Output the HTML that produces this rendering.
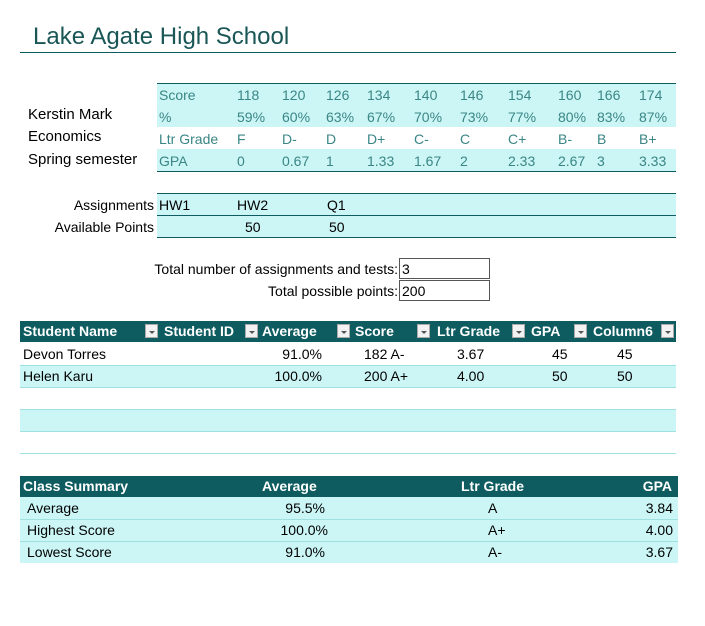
<!DOCTYPE html><html><head><style>
body{margin:0;width:705px;height:626px;background:#fff;position:relative;font-family:"Liberation Sans",sans-serif;overflow:hidden}
.a{position:absolute;white-space:nowrap;font-size:14px;line-height:22px}
.bg{position:absolute;background:#ccf6f6}
.ln{position:absolute;height:1px;background:#0e5c60}
.lc{position:absolute;height:1px;background:#9fe0e0}
.t{color:#3a8585}
.h{position:absolute;background:#0e5c60}
.w{color:#fff;font-weight:bold}
.dd{position:absolute;width:13px;height:14px;background:#f2f2f2;border:1px solid #aaa;box-sizing:border-box;top:324px}
.dd:after{content:"";position:absolute;left:3px;top:6px;border:3px solid transparent;border-top:3px solid #555}
.box{position:absolute;border:1px solid #555;width:91px;height:21px;box-sizing:border-box;font-size:14px;line-height:20px;padding-left:2px}
</style></head><body>
<div class="a" style="left:33px;top:22px;font-size:24px;line-height:30px;color:#1a5656">Lake Agate High School</div>
<div class="ln" style="left:20px;top:52px;width:656px"></div>

<div class="bg" style="left:157px;top:83px;width:519px;height:44px"></div>
<div class="bg" style="left:157px;top:149px;width:519px;height:22px"></div>
<div class="ln" style="left:157px;top:83px;width:519px"></div>
<div class="ln" style="left:157px;top:171px;width:519px"></div>
<div class="a" style="left:28px;top:104px;font-size:15px">Kerstin Mark</div>
<div class="a" style="left:28px;top:126px;font-size:15px">Economics</div>
<div class="a" style="left:28px;top:149px;font-size:15px">Spring semester</div>
<div class="t">
<div class="a" style="left:159px;top:84px">Score</div><div class="a" style="left:237px;top:84px">118</div><div class="a" style="left:282px;top:84px">120</div><div class="a" style="left:326px;top:84px">126</div><div class="a" style="left:367px;top:84px">134</div><div class="a" style="left:414px;top:84px">140</div><div class="a" style="left:460px;top:84px">146</div><div class="a" style="left:508px;top:84px">154</div><div class="a" style="left:558px;top:84px">160</div><div class="a" style="left:597px;top:84px">166</div><div class="a" style="left:639px;top:84px">174</div>
<div class="a" style="left:159px;top:106px">%</div><div class="a" style="left:237px;top:106px">59%</div><div class="a" style="left:282px;top:106px">60%</div><div class="a" style="left:326px;top:106px">63%</div><div class="a" style="left:367px;top:106px">67%</div><div class="a" style="left:414px;top:106px">70%</div><div class="a" style="left:460px;top:106px">73%</div><div class="a" style="left:508px;top:106px">77%</div><div class="a" style="left:558px;top:106px">80%</div><div class="a" style="left:597px;top:106px">83%</div><div class="a" style="left:639px;top:106px">87%</div>
<div class="a" style="left:159px;top:128px">Ltr Grade</div><div class="a" style="left:237px;top:128px">F</div><div class="a" style="left:282px;top:128px">D-</div><div class="a" style="left:326px;top:128px">D</div><div class="a" style="left:367px;top:128px">D+</div><div class="a" style="left:414px;top:128px">C-</div><div class="a" style="left:460px;top:128px">C</div><div class="a" style="left:508px;top:128px">C+</div><div class="a" style="left:558px;top:128px">B-</div><div class="a" style="left:597px;top:128px">B</div><div class="a" style="left:639px;top:128px">B+</div>
<div class="a" style="left:159px;top:150px">GPA</div><div class="a" style="left:237px;top:150px">0</div><div class="a" style="left:282px;top:150px">0.67</div><div class="a" style="left:326px;top:150px">1</div><div class="a" style="left:367px;top:150px">1.33</div><div class="a" style="left:414px;top:150px">1.67</div><div class="a" style="left:460px;top:150px">2</div><div class="a" style="left:508px;top:150px">2.33</div><div class="a" style="left:558px;top:150px">2.67</div><div class="a" style="left:597px;top:150px">3</div><div class="a" style="left:639px;top:150px">3.33</div>
</div>

<div class="bg" style="left:157px;top:193px;width:519px;height:44px"></div>
<div class="ln" style="left:157px;top:193px;width:519px"></div>
<div class="ln" style="left:157px;top:215px;width:519px"></div>
<div class="ln" style="left:157px;top:237px;width:519px"></div>
<div class="a" style="right:551px;top:194px">Assignments</div>
<div class="a" style="right:551px;top:216px">Available Points</div>
<div class="a" style="left:159px;top:194px">HW1</div><div class="a" style="left:237px;top:194px">HW2</div><div class="a" style="left:327px;top:194px">Q1</div>
<div class="a" style="left:245px;top:216px">50</div><div class="a" style="left:329px;top:216px">50</div>

<div class="a" style="right:307px;top:258px">Total number of assignments and tests:</div>
<div class="a" style="right:307px;top:280px">Total possible points:</div>
<div class="box" style="left:399px;top:258px">3</div>
<div class="box" style="left:399px;top:280px">200</div>

<div class="h" style="left:20px;top:321px;width:656px;height:21px"></div>
<div class="w">
<div class="a" style="left:23px;top:320px">Student Name</div><div class="a" style="left:164px;top:320px">Student ID</div><div class="a" style="left:262px;top:320px">Average</div><div class="a" style="left:355px;top:320px">Score</div><div class="a" style="left:437px;top:320px">Ltr Grade</div><div class="a" style="left:531px;top:320px">GPA</div><div class="a" style="left:593px;top:320px">Column6</div>
</div>
<div class="dd" style="left:145px"></div><div class="dd" style="left:245px"></div><div class="dd" style="left:337px"></div><div class="dd" style="left:417px"></div><div class="dd" style="left:512px"></div><div class="dd" style="left:574px"></div><div class="dd" style="left:661px"></div>
<div class="bg" style="left:20px;top:365px;width:656px;height:22px"></div>
<div class="bg" style="left:20px;top:409px;width:656px;height:22px"></div>
<div class="lc" style="left:20px;top:365px;width:656px"></div><div class="lc" style="left:20px;top:387px;width:656px"></div><div class="lc" style="left:20px;top:409px;width:656px"></div><div class="lc" style="left:20px;top:431px;width:656px"></div><div class="lc" style="left:20px;top:453px;width:656px"></div>
<div class="a" style="left:23px;top:343px">Devon Torres</div><div class="a" style="right:383px;top:343px">91.0%</div><div class="a" style="left:364px;top:343px">182 A-</div><div class="a" style="left:457px;top:343px">3.67</div><div class="a" style="left:552px;top:343px">45</div><div class="a" style="left:617px;top:343px">45</div>
<div class="a" style="left:23px;top:365px">Helen Karu</div><div class="a" style="right:383px;top:365px">100.0%</div><div class="a" style="left:364px;top:365px">200 A+</div><div class="a" style="left:457px;top:365px">4.00</div><div class="a" style="left:552px;top:365px">50</div><div class="a" style="left:617px;top:365px">50</div>

<div class="h" style="left:20px;top:476px;width:658px;height:21px"></div>
<div class="w">
<div class="a" style="left:23px;top:475px">Class Summary</div><div class="a" style="left:262px;top:475px">Average</div><div class="a" style="left:461px;top:475px">Ltr Grade</div><div class="a" style="right:33px;top:475px">GPA</div>
</div>
<div class="bg" style="left:20px;top:497px;width:658px;height:66px"></div>
<div class="lc" style="left:20px;top:519px;width:658px"></div><div class="lc" style="left:20px;top:541px;width:658px"></div>
<div class="a" style="left:27px;top:497px">Average</div><div class="a" style="right:380px;top:497px">95.5%</div><div class="a" style="left:488px;top:497px">A</div><div class="a" style="right:32px;top:497px">3.84</div>
<div class="a" style="left:27px;top:519px">Highest Score</div><div class="a" style="right:377px;top:519px">100.0%</div><div class="a" style="left:488px;top:519px">A+</div><div class="a" style="right:32px;top:519px">4.00</div>
<div class="a" style="left:27px;top:541px">Lowest Score</div><div class="a" style="right:380px;top:541px">91.0%</div><div class="a" style="left:488px;top:541px">A-</div><div class="a" style="right:32px;top:541px">3.67</div>
</body></html>
